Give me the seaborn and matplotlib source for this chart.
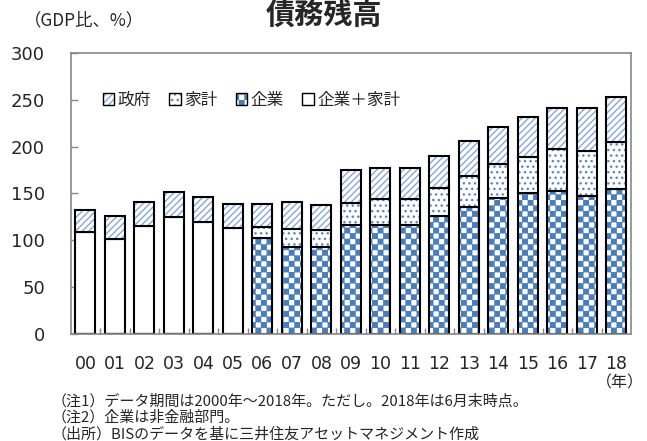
import numpy as np
import matplotlib
matplotlib.use("Agg")
import matplotlib.pyplot as plt
import matplotlib.hatch as mhatch
import matplotlib.colors as mcolors
from matplotlib.path import Path
from matplotlib.ticker import MultipleLocator, FixedLocator
import seaborn as sns

# --- data (GDP比、%) ---
years = ["00", "01", "02", "03", "04", "05", "06", "07", "08", "09",
         "10", "11", "12", "13", "14", "15", "16", "17", "18"]
corp_hh = [109, 101, 115, 125, 120, 113, 0, 0, 0, 0, 0, 0, 0, 0, 0, 0, 0, 0, 0]
corp = [0, 0, 0, 0, 0, 0, 103, 93, 93, 116, 116, 116, 126, 136, 145, 150, 153, 147, 155]
household = [0, 0, 0, 0, 0, 0, 11, 19, 18, 24, 28, 28, 30, 33, 36, 39, 44, 48, 50]
gov = [23, 25, 26, 27, 26, 26, 25, 29, 27, 35, 33, 33, 34, 37, 40, 42, 44, 46, 48]


# checkerboard fill, registered in place of the "O" hatch
class CheckerHatch(mhatch.HatchPatternBase):
    def __init__(self, hatch, density):
        self.n = hatch.count("O") * 9
        self.num_vertices = 2 * self.n * self.n * 5

    def set_vertices_and_codes(self, vertices, codes):
        s = 1.0 / (2 * self.n)
        d = 0.09 * s
        sq = np.array([[d, d], [s - d, d], [s - d, s - d], [d, s - d], [d, d]])
        parts = [sq + [i * s, j * s] for i in range(2 * self.n)
                 for j in range(2 * self.n) if (i + j) % 2 == 0]
        vertices[:] = np.concatenate(parts)
        codes[:] = np.tile([Path.MOVETO, Path.LINETO, Path.LINETO,
                            Path.LINETO, Path.CLOSEPOLY], len(parts))


mhatch._hatch_types[mhatch._hatch_types.index(mhatch.LargeCircles)] = CheckerHatch

sns.set_style("ticks")
plt.rcParams["font.family"] = ["DejaVu Sans", "Noto Sans CJK JP"]
plt.rcParams["hatch.linewidth"] = 1.0
jp = ["Noto Sans CJK JP", "DejaVu Sans"]

fig = plt.figure(figsize=(6.47, 4.41), dpi=100)
ax = fig.add_axes([0.1093, 0.2420, 0.866, 0.6385])

bar_kw = dict(width=0.68, saturation=1, errorbar=None, color="white",
              edgecolor="black", linewidth=1.5, ax=ax)

bottom3 = [a + b + c for a, b, c in zip(corp_hh, corp, household)]

sns.barplot(x=years, y=corp_hh, label="企業＋家計", **bar_kw)
sns.barplot(x=years, y=corp, hatch="O", label="企業", **bar_kw)
sns.barplot(x=years, y=household, bottom=corp, hatch="...", label="家計", **bar_kw)
sns.barplot(x=years, y=gov, bottom=bottom3, hatch="/////", label="政府", **bar_kw)

hatch_colors = [None, "#4a7ebb", "#5b86c6", "#86a8da"]
for cont, hc in zip(ax.containers, hatch_colors):
    if hc is None:
        continue
    for p in cont.patches:
        p._hatch_color = mcolors.to_rgba(hc)

ax.set_ylim(0, 300)
ax.set_xlim(-0.5, 18.5)
ax.yaxis.set_major_locator(MultipleLocator(50))
ax.xaxis.set_minor_locator(FixedLocator(np.arange(0.5, 18, 1)))
ax.set_xlabel("")
ax.set_ylabel("")

for side in ["left", "right", "top", "bottom"]:
    ax.spines[side].set_visible(True)
    ax.spines[side].set_color("#878787")
    ax.spines[side].set_linewidth(1.2)

ax.tick_params(axis="y", which="major", direction="in", length=5, width=1,
               color="#878787", labelsize=13, pad=18.5)
ax.tick_params(axis="x", which="major", length=0, labelsize=12.5, pad=15)
ax.tick_params(axis="x", which="minor", direction="in", length=4, width=1,
               color="#878787")

handles = [ax.containers[i] for i in (3, 2, 1, 0)]
labels = ["政府", "家計", "企業", "企業＋家計"]
leg = ax.legend(handles, labels, loc="center left", bbox_to_anchor=(0.045, 0.832),
                ncol=4, frameon=False, handlelength=0.7, handleheight=0.7,
                handletextpad=0.2, columnspacing=1.1, borderaxespad=0,
                prop={"family": jp, "size": 12})
for h in leg.legend_handles:
    h.set_linewidth(1.0)

fig.text(0.5, 1 - 16 / 441, "債務残高", ha="center", va="center", fontsize=21,
         fontweight="bold", family=jp)
fig.text(24 / 647, 1 - 20 / 441, "（GDP比、%）", ha="left", va="center",
         fontsize=12.5, family=jp)
fig.text(644 / 647, 1 - 383 / 441, "（年）", ha="right", va="center",
         fontsize=11.5, family=jp)

notes = ["（注1）データ期間は2000年～2018年。ただし。2018年は6月末時点。",
         "（注2）企業は非金融部門。",
         "（出所）BISのデータを基に三井住友アセットマネジメント作成"]
for i, t in enumerate(notes):
    fig.text(52 / 647, 1 - (401 + 16.5 * i) / 441, t, ha="left", va="center",
             fontsize=10.8, family=jp)

fig.savefig("out.png", dpi=100)
